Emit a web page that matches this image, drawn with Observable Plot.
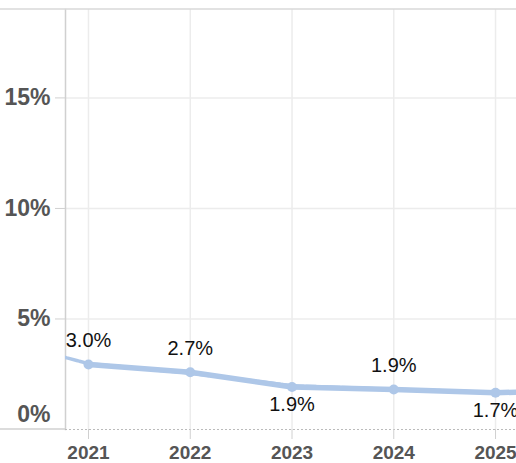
<!DOCTYPE html>
<html>
<head>
<meta charset="utf-8">
<script src="https://cdn.jsdelivr.net/npm/d3@7"></script>
<script src="https://cdn.jsdelivr.net/npm/@observablehq/plot@0.6"></script>
<style>
  html, body { margin: 0; padding: 0; background: #fff; }
  #chart { width: 516px; height: 463px; }
  svg { font-family: "Liberation Sans", Arial, sans-serif; }
</style>
</head>
<body>
<div id="chart"></div>
<script>
// Solid series (with markers)
const years = [2021, 2022, 2023, 2024, 2025, 2026];
const values = [2.94, 2.59, 1.92, 1.81, 1.66, 1.8];
// Dashed series
const dashYears = [2020, 2021, 2022, 2023, 2024, 2025, 2026];
const dashValues = [4.2, 2.98, 2.55, 1.98, 1.82, 1.68, 1.8];
// Data labels
const labelYears = [2021, 2022, 2023, 2024, 2025];
const labelValues = [3.0, 2.7, 1.9, 1.9, 1.7];
const labelPos = ["above", "above", "below", "above", "below"];
// Axis ticks
const xTicks = [2021, 2022, 2023, 2024, 2025];
const yTicks = [5, 10, 15];
const yZero = [0];

const solid = years.map((y, i) => ({year: y, value: values[i]}));
const dashed = dashYears.map((y, i) => ({year: y, value: dashValues[i]}));
const points = solid.filter(d => d.year <= 2025);
const labels = labelYears.map((y, i) => ({year: y, value: values[i], label: labelValues[i], pos: labelPos[i]}));

const W = 516, H = 463;
const lineColor = "#aec7e8";

const chart = Plot.plot({
  width: W,
  height: H,
  marginLeft: 65,
  marginRight: 0,
  marginTop: 9,
  marginBottom: 34,
  style: {fontFamily: "'Liberation Sans', Arial, sans-serif", background: "#fff", overflow: "visible"},
  x: {domain: [2020.774, 2025.206]},
  y: {domain: [0, 19]},
  marks: [
    Plot.gridX(xTicks, {stroke: "#ececec", strokeOpacity: 1, strokeWidth: 1.5}),
    Plot.gridY(yTicks, {stroke: "#ececec", strokeOpacity: 1, strokeWidth: 1.5}),
    Plot.frame({anchor: "left", stroke: "#d0d0d0", strokeWidth: 1.5}),
    Plot.ruleY([0], {stroke: "#bbb", strokeDasharray: "2,2", strokeWidth: 1}),
    Plot.axisY(yTicks, {
      tickFormat: d => d + "%",
      tickSize: 10, tickPadding: 5,
      stroke: "#d0d0d0",
      fill: "#555",
      fontSize: 23, fontWeight: "bold",
      label: null
    }),
    Plot.axisY(yZero, {
      tickFormat: d => d + "%",
      tickSize: 0, tickPadding: 15,
      dy: -15,
      fill: "#555",
      fontSize: 23, fontWeight: "bold",
      label: null
    }),
    Plot.axisX(xTicks, {
      tickFormat: d => String(d),
      tickSize: 10, tickPadding: 6,
      stroke: "#d0d0d0",
      fill: "#555",
      fontSize: 19, fontWeight: "bold",
      label: null
    }),
    Plot.line(dashed, {x: "year", y: "value", stroke: lineColor, strokeWidth: 3.5, strokeDasharray: "10,2", clip: true}),
    Plot.line(solid, {x: "year", y: "value", stroke: lineColor, strokeWidth: 5.5, clip: true}),
    Plot.dot(points, {x: "year", y: "value", r: 5, fill: lineColor, stroke: "none", clip: true}),
    Plot.text(labels.filter(d => d.pos === "above"), {
      x: "year", y: "value", text: d => d.label.toFixed(1) + "%",
      dy: -24, fontSize: 20, fill: "#111", lineAnchor: "middle"
    }),
    Plot.text(labels.filter(d => d.pos === "below"), {
      x: "year", y: "value", text: d => d.label.toFixed(1) + "%",
      dy: 18, fontSize: 20, fill: "#111", lineAnchor: "middle"
    })
  ]
});

document.getElementById("chart").appendChild(chart);

// Decorative border segments outside the plotting area
const svg = d3.select(chart);
svg.append("line").attr("x1", 0).attr("x2", W).attr("y1", 9).attr("y2", 9)
  .attr("stroke", "#d8d8d8").attr("stroke-width", 1.5);
svg.append("line").attr("x1", 0).attr("x2", 65).attr("y1", 429).attr("y2", 429)
  .attr("stroke", "#d0d0d0").attr("stroke-width", 1.5);
</script>
</body>
</html>
